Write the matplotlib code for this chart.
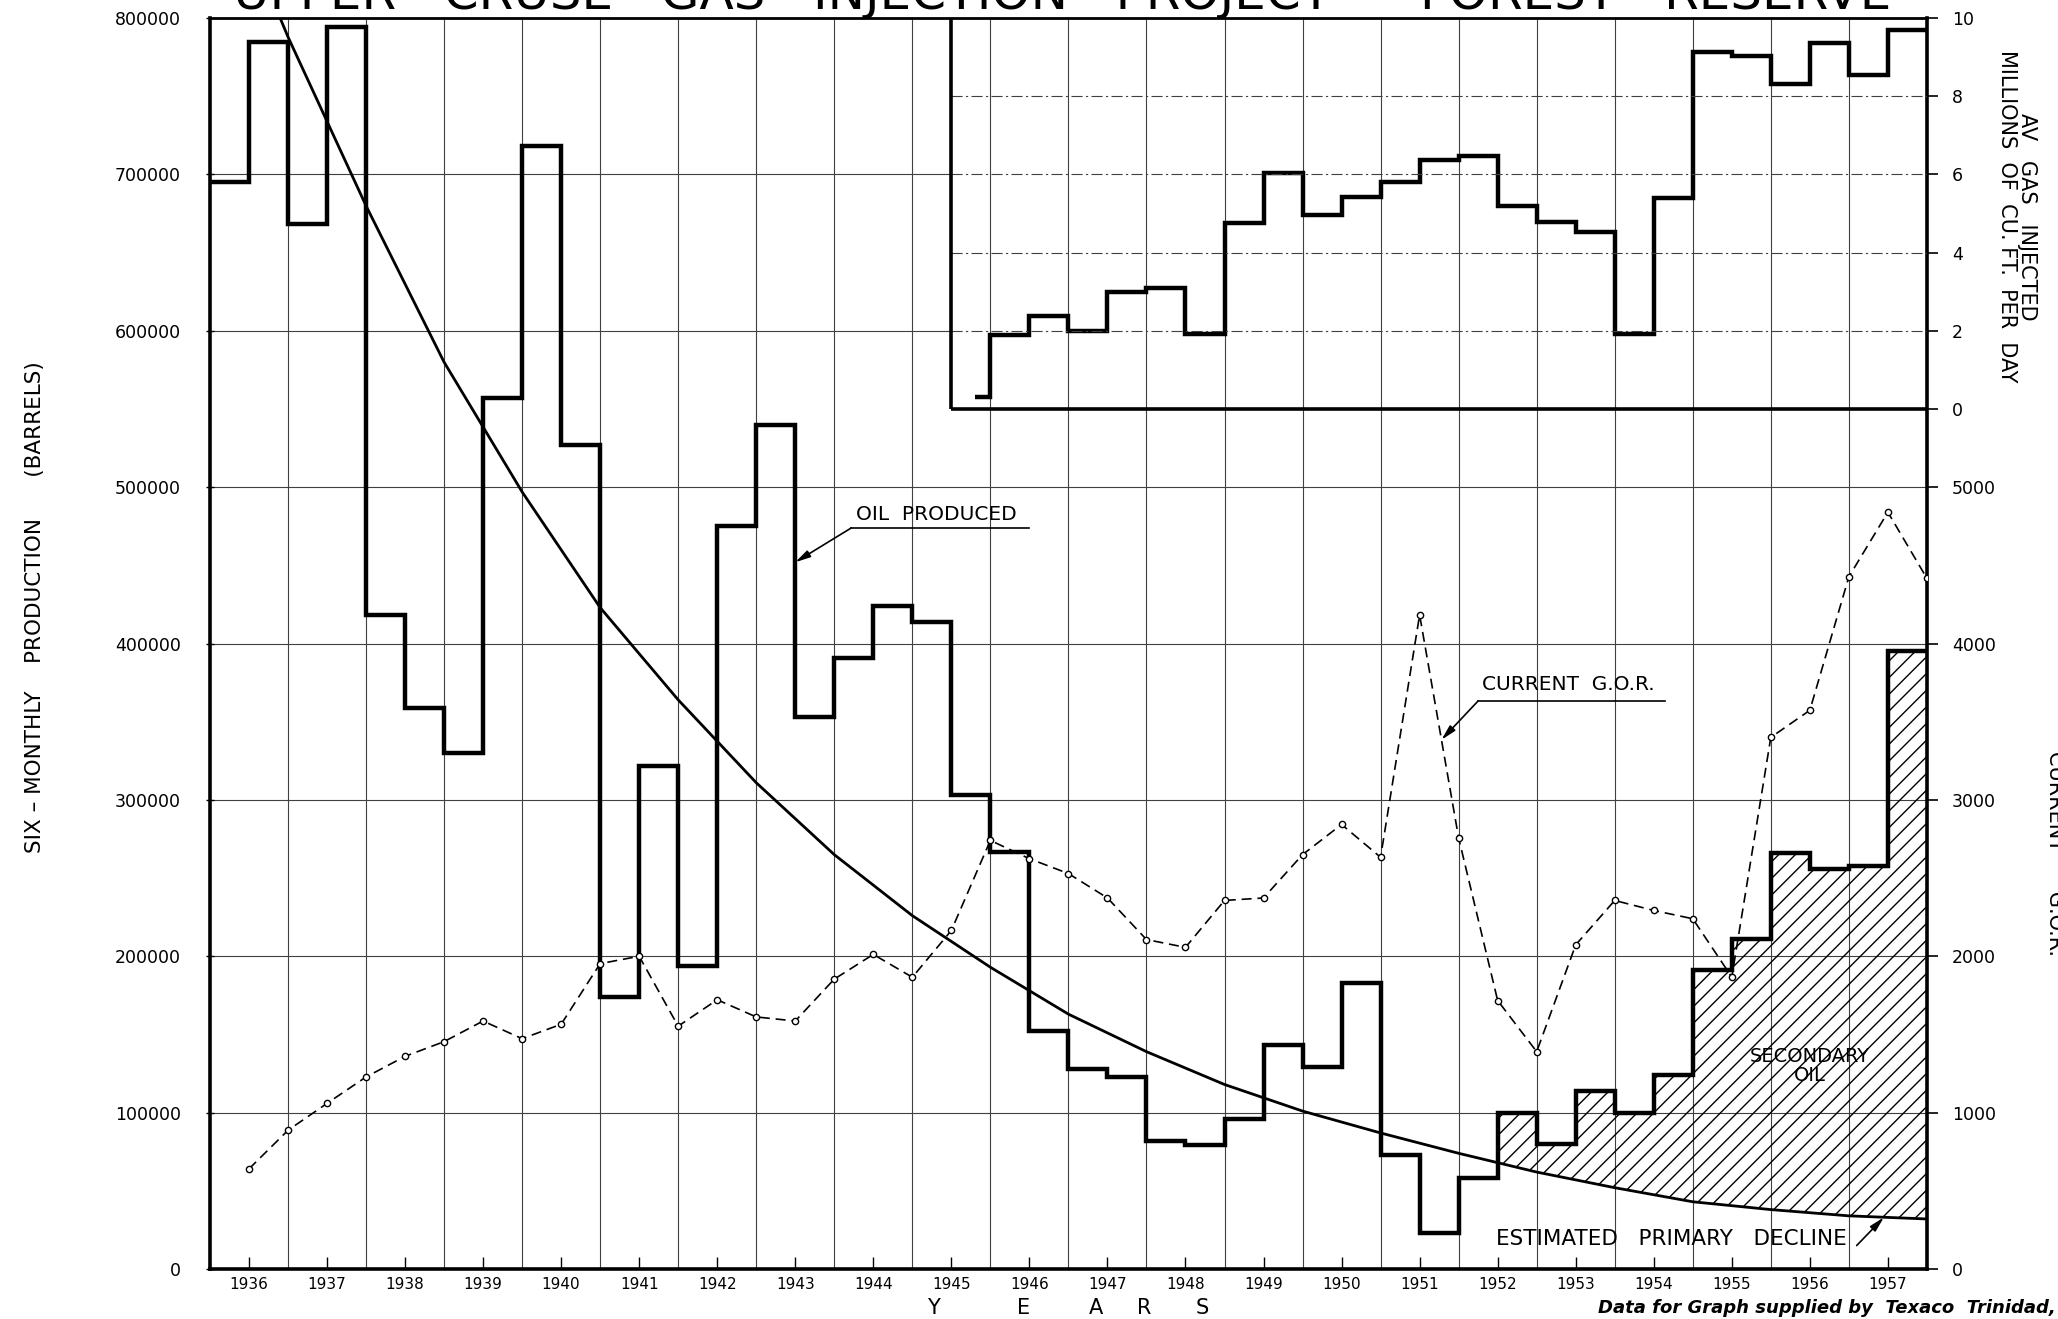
import numpy as np
import matplotlib
matplotlib.use("Agg")
import matplotlib.pyplot as plt

plt.rcParams['font.family'] = ['DejaVu Sans']
plt.rcParams['hatch.linewidth'] = 1.0

# six-monthly oil production, barrels (period starting at each half year)
oil_bbl = [695000, 785000, 668000, 794000, 418000, 359000, 330000, 557000,
           718000, 527000, 174000, 322000, 194000, 475000, 540000, 353000,
           391000, 424000, 414000, 303000, 267000, 152000, 128000, 123000,
           82000, 79000, 96000, 143000, 129000, 183000, 73000, 23000,
           58000, 100000, 80000, 114000, 100000, 124000, 191000, 211000,
           266000, 256000, 258000, 395000]
oil_start = 1936.0

# current gas-oil ratio, read at the end of each half year
gor = [640, 887, 1059, 1228, 1360, 1454, 1586, 1473, 1565, 1953, 2000,
       1553, 1722, 1612, 1586, 1854, 2012, 1866, 2165, 2741, 2624, 2529,
       2373, 2107, 2057, 2357, 2373, 2650, 2843, 2633, 4183, 2757, 1717,
       1390, 2073, 2357, 2293, 2240, 1867, 3400, 3573, 4427, 4840, 4417]

# average gas injected, millions of cu. ft. per day
gas_first = 1945.8
gas_mmcf = [0.3, 1.88, 2.37, 2.0, 3.0, 3.1, 1.92, 4.75, 6.03, 4.97, 5.42,
            5.80, 6.37, 6.47, 5.20, 4.78, 4.52, 1.92, 5.40, 9.13, 9.02,
            8.32, 9.36, 8.55, 9.70]

# estimated primary decline curve
decline_year = [1936.9, 1937.0, 1938.0, 1939.0, 1940.0, 1941.0, 1942.0,
                1943.0, 1944.0, 1945.0, 1946.0, 1947.0, 1948.0, 1949.0,
                1950.0, 1951.0, 1952.0, 1953.0, 1954.0, 1955.0, 1956.0,
                1957.0, 1958.0]
decline_oil = [800000, 788000, 680000, 580000, 497000, 423000, 364000,
               311000, 265000, 226000, 193000, 163000, 139000, 118000,
               101000, 87000, 74000, 62000, 52000, 43000, 38000, 34000,
               32000]

years = list(range(1936, 1958))

oil_edges = oil_start + 0.5 * np.arange(len(oil_bbl) + 1)
gor_years = oil_edges[1:]
gas_edges = np.concatenate([[gas_first], 1946.0 + 0.5 * np.arange(len(gas_mmcf))])

fig = plt.figure(figsize=(20.58, 13.19), dpi=100)
ax = fig.add_axes([0.102, 0.0379, 0.8343, 0.9484])
ax.set_xlim(1936, 1958)
ax.set_ylim(0, 800000)

ax_gor = ax.twinx()
ax_gor.set_ylim(0, 8000)
ax_gas = ax.twinx()
ax_gas.set_ylim(-22, 10)

# grid
grid_kw = dict(color='0.25', lw=0.8, zorder=1)
ax.vlines(years[1:], 0, 800000, **grid_kw)
ax.hlines([100000, 200000, 300000, 400000, 500000], 1936, 1958, **grid_kw)
ax.hlines([600000, 700000], 1936, 1945.5, **grid_kw)
ax_gas.hlines([2, 4, 6, 8], 1945.5, 1958, color='0.25', lw=0.8,
              linestyle=(0, (10, 3, 2, 3)))

# gas panel frame
ax_gas.hlines(0, 1945.5, 1958, color='black', lw=2.6)
ax_gas.vlines(1945.5, 0, 10, color='black', lw=2.6)

# secondary oil hatching between steps and decline
xx = np.linspace(1952.5, 1958.0, 1101)
idx = np.clip(((xx - oil_start) / 0.5).astype(int), 0, len(oil_bbl) - 1)
top = np.array(oil_bbl, dtype=float)[idx]
bot = np.interp(xx, decline_year, decline_oil)
ax.fill_between(xx, bot, top, where=top > bot, facecolor='none',
                edgecolor='black', hatch='//', lw=0, zorder=2)

ax.stairs(oil_bbl, oil_edges, baseline=None, color='black', lw=3.2, zorder=4)
ax.plot(decline_year, decline_oil, color='black', lw=2.0, zorder=4)
ax_gas.stairs(gas_mmcf, gas_edges, baseline=None, color='black', lw=3.2)
ax_gor.plot(gor_years, gor, color='black', lw=1.2, linestyle=(0, (6, 3.5)),
            marker='o', ms=4.5, mfc='white', mec='black', mew=1.0)

# axes styling
for a in (ax, ax_gor, ax_gas):
    for s in a.spines.values():
        s.set_visible(False)
for s in ('left', 'bottom', 'right', 'top'):
    ax.spines[s].set_visible(True)
    ax.spines[s].set_linewidth(2.6 if s != 'top' else 2.0)

ax.set_xticks([y + 0.5 for y in years])
ax.set_xticklabels([str(y) for y in years], fontsize=11)
ax.tick_params(axis='x', direction='in', length=9, width=1.0, pad=6)
ax.set_yticks(range(0, 800001, 100000))
ax.set_yticklabels([str(v) for v in range(0, 800001, 100000)], fontsize=12.5)
ax.tick_params(axis='y', direction='inout', length=6, width=1.0, pad=18)

ax_gor.set_yticks(range(0, 5001, 1000))
ax_gor.set_yticklabels([str(v) for v in range(0, 5001, 1000)], fontsize=12.5)
ax_gor.tick_params(axis='y', direction='out', length=8, width=1.2, pad=10)
ax_gas.set_yticks(range(0, 11, 2))
ax_gas.set_yticklabels([str(v) for v in range(0, 11, 2)], fontsize=12.5)
ax_gas.tick_params(axis='y', direction='out', length=8, width=1.2, pad=10)

# annotations
lab = dict(fontsize=14.5, color='black')
arrow = dict(arrowstyle='-|>,head_length=0.9,head_width=0.22', color='black',
             lw=1.2, shrinkA=0, shrinkB=0)

ax.text(1944.28, 479000, 'OIL  PRODUCED', ha='left', va='baseline', **lab)
ax.plot([1944.22, 1946.5], [474000, 474000], color='black', lw=1.2)
ax.annotate('', xy=(1943.5, 452000), xytext=(1944.22, 474000),
            arrowprops=arrow)

tip_x = 1951.78
ax_gor.text(1952.3, 3700, 'CURRENT  G.O.R.', ha='left', va='baseline', **lab)
ax_gor.plot([1952.25, 1954.65], [3633, 3633], color='black', lw=1.2)
ax_gor.annotate('', xy=(tip_x, np.interp(tip_x, gor_years, gor)),
                xytext=(1952.25, 3633), arrowprops=arrow)

ax.text(1956.5, 130000, 'SECONDARY\nOIL', ha='center', va='center',
        linespacing=1.0, fontsize=14, zorder=6)

ax.text(1954.72, 19000, 'ESTIMATED   PRIMARY   DECLINE', ha='center',
        va='center', fontsize=15.5)
tip2 = 1957.45
ax.annotate('', xy=(tip2, np.interp(tip2, decline_year, decline_oil)),
            xytext=(1957.1, 15000), arrowprops=arrow)

# titles and axis labels
fig.text(0.516, 0.9935,
         'UPPER   CRUSE   GAS   INJECTION   PROJECT  –  FOREST   RESERVE',
         ha='center', va='baseline', fontsize=36)
fig.text(0.0172, 0.540, 'SIX – MONTHLY    PRODUCTION      (BARRELS)',
         rotation=90, ha='center', va='center', fontsize=15.5)
fig.text(0.980, 0.836, 'AV   GAS   INJECTED\nMILLIONS  OF  CU. FT.  PER  DAY',
         rotation=-90, ha='center', va='center', fontsize=15,
         linespacing=1.0, multialignment='center')
fig.text(0.9985, 0.353, 'CURRENT      G.O.R.', rotation=-90, ha='center',
         va='center', fontsize=15)
for letter, fx in zip('YEARS', [0.4535, 0.4975, 0.5325, 0.5561, 0.5842]):
    fig.text(fx, 0.008, letter, ha='center', va='center', fontsize=15)
fig.text(0.999, 0.008, 'Data for Graph supplied by  Texaco  Trinidad,',
         ha='right', va='center', fontsize=13, style='italic',
         fontweight='bold')

fig.savefig('out.png', dpi=100, facecolor='white')
